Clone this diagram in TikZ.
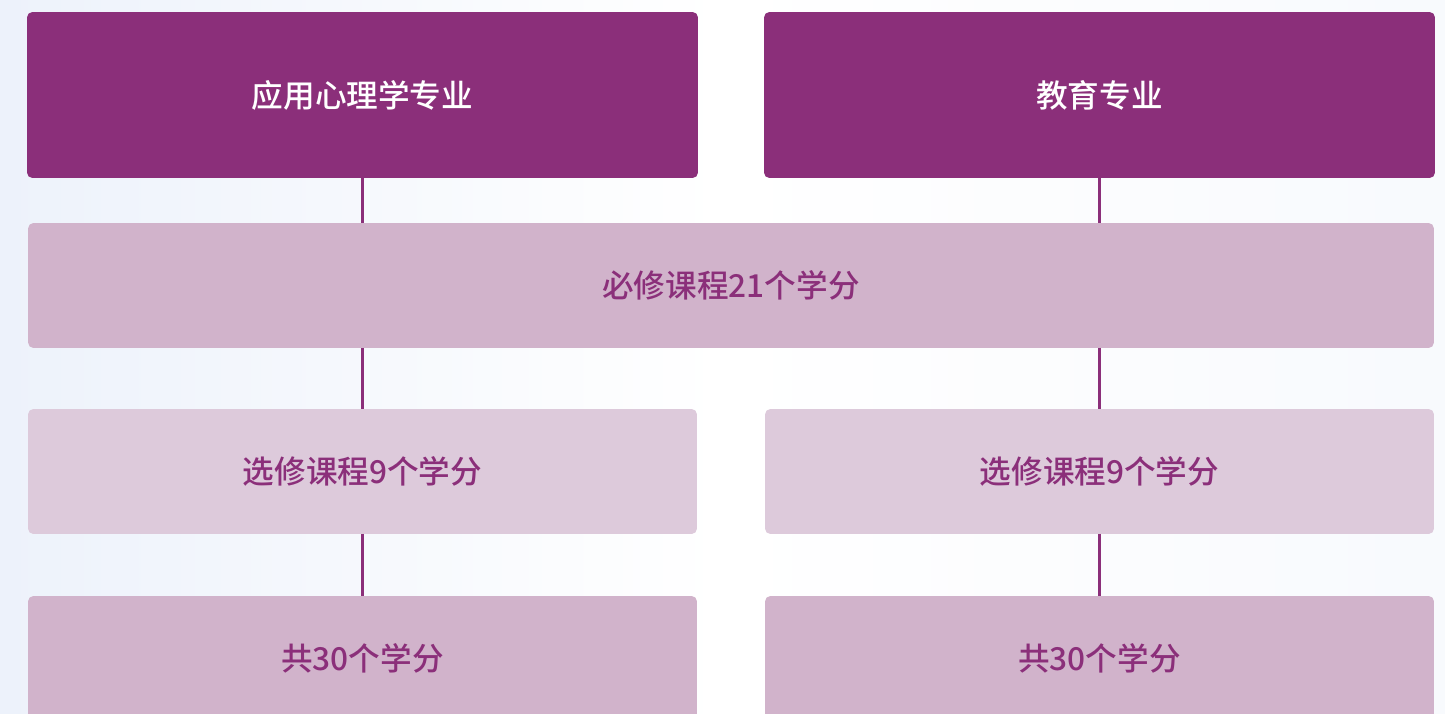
\documentclass[tikz,border=0pt]{standalone}
\usepackage{fontspec}
\setmainfont{Noto Sans CJK SC}[BoldFont={Noto Sans CJK SC Medium}]
\usetikzlibrary{positioning}
\definecolor{plum}{HTML}{8B2F7A}
\definecolor{plummid}{HTML}{D1B3CB}
\definecolor{plumlight}{HTML}{DDCADB}
\definecolor{bgblue}{HTML}{EDF2FB}

\begin{document}
\begin{tikzpicture}[x=0.02cm,y=-0.02cm,
  box/.style={inner sep=0pt,outer sep=0pt,rounded corners=3pt,
    font=\fontsize{18}{20}\selectfont\bfseries},
  major/.style={box,fill=plum,text=white,minimum width=13.42cm,minimum height=3.32cm},
  credit/.style={box,fill=plummid,text=plum,minimum height=2.5cm},
  elective/.style={box,fill=plumlight,text=plum,minimum width=13.38cm,minimum height=2.5cm},
  link/.style={draw=plum,line width=1.5pt}]
\useasboundingbox (0,0) rectangle (1445,714);
\clip (0,0) rectangle (1445,714);
\shade[left color=bgblue,right color=bgblue!40!white,middle color=white] (0,0) rectangle (1445,714);

\def\xl{362.5}
\def\xr{1099.5}
\def\xm{731}

\def\ya{95}
\def\yb{285.5}
\def\yc{471.5}
\def\yd{658.5}

\node[major] (app) at (\xl, \ya) {应用心理学专业};
\node[major] (edu) at (\xr, \ya) {教育专业};
\node[credit,minimum width=28.12cm] (req) at (\xm, \yb) {必修课程21个学分};
\node[elective] (elecL) at (\xl, \yc) {选修课程9个学分};
\node[elective] (elecR) at (\xr, \yc) {选修课程9个学分};
\node[credit,minimum width=13.38cm] (totL) at (\xl, \yd) {共30个学分};
\node[credit,minimum width=13.38cm] (totR) at (\xr, \yd) {共30个学分};

\draw[link] (app.south) -- (app.south |- req.north);
\draw[link] (edu.south) -- (edu.south |- req.north);
\draw[link] (elecL.north |- req.south) -- (elecL.north);
\draw[link] (elecR.north |- req.south) -- (elecR.north);
\draw[link] (elecL.south) -- (totL.north);
\draw[link] (elecR.south) -- (totR.north);
\end{tikzpicture}
\end{document}
